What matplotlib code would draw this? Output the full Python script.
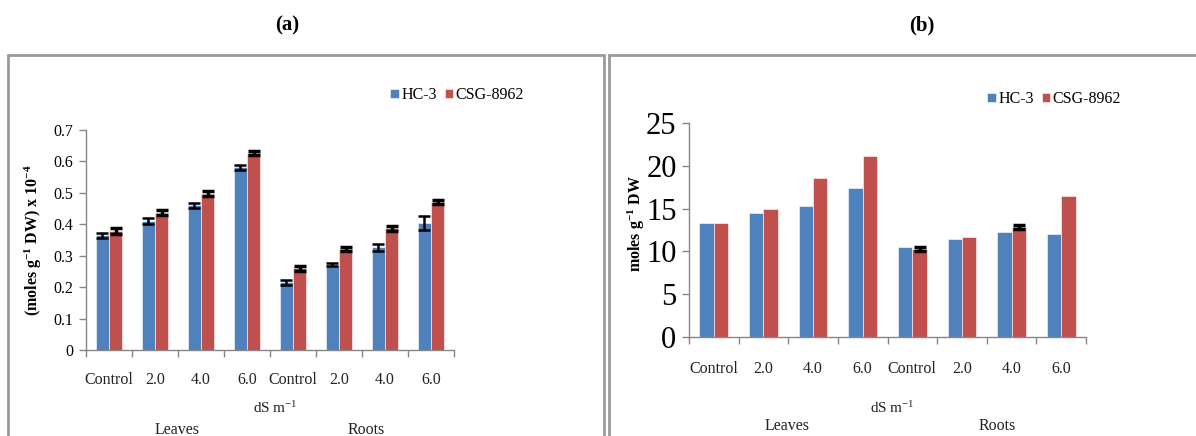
import matplotlib
matplotlib.use("Agg")
import matplotlib.pyplot as plt
from matplotlib.patches import Rectangle
import numpy as np

W, H = 1196, 436
DPI = 100

categories = ["Control", "2.0", "4.0", "6.0", "Control", "2.0", "4.0", "6.0"]
organs = ["Leaves", "Roots"]
series = ["HC-3", "CSG-8962"]

# panel (a): (moles g-1 DW) x 10-4
a_hc3 = [0.365, 0.41, 0.46, 0.581, 0.215, 0.272, 0.327, 0.405]
a_csg = [0.379, 0.436, 0.497, 0.627, 0.26, 0.321, 0.388, 0.47]
a_hc3_err = [0.008, 0.009, 0.007, 0.007, 0.008, 0.006, 0.011, 0.022]
a_csg_err = [0.009, 0.008, 0.008, 0.006, 0.008, 0.006, 0.008, 0.006]

# panel (b): moles g-1 DW
b_hc3 = [13.3, 14.5, 15.3, 17.4, 10.5, 11.5, 12.3, 12.0]
b_csg = [13.3, 15.0, 18.55, 21.2, 10.3, 11.65, 12.85, 16.45]
b_csg_err = [0, 0, 0, 0, 0.2, 0, 0.2, 0]

BLUE = "#4F81BD"
RED = "#C0504D"
AXIS = "#868686"
SERIF = ["Liberation Serif", "DejaVu Serif"]

plt.rcParams["mathtext.fontset"] = "custom"
plt.rcParams["mathtext.rm"] = "Liberation Serif"
plt.rcParams["mathtext.it"] = "Liberation Serif:italic"
plt.rcParams["mathtext.bf"] = "Liberation Serif:bold"
plt.rcParams["mathtext.default"] = "regular"

fig = plt.figure(figsize=(W / DPI, H / DPI), dpi=DPI)


def px_axes(x0, y0, x1, y1):
    # pixel box (top-left origin) -> figure axes
    return fig.add_axes([x0 / W, 1 - y1 / H, (x1 - x0) / W, (y1 - y0) / H])


def fx(x):
    return x / W


def fy(y):
    return 1 - y / H


def draw_panel(ax, hc, csg, hc_err, csg_err, ymax, ystep, bw, tick_fs, ylabel, ylab_fs):
    x = np.arange(len(categories))
    ax.bar(x - bw / 2, hc, bw, color=BLUE, edgecolor="white", linewidth=0.4, label=series[0], zorder=2)
    ax.bar(x + bw / 2, csg, bw, color=RED, edgecolor="white", linewidth=0.4, label=series[1], zorder=2)
    if hc_err is not None:
        ax.errorbar(x - bw / 2, hc, yerr=hc_err, fmt="none", ecolor="black",
                    elinewidth=1.8, capsize=4, capthick=1.8, zorder=3)
    if csg_err is not None:
        e = np.array(csg_err)
        m = e > 0
        ax.errorbar((x + bw / 2)[m], np.array(csg)[m], yerr=e[m], fmt="none", ecolor="black",
                    elinewidth=2.5, capsize=4, capthick=2.5, zorder=3)
    ax.set_xlim(-0.5, len(categories) - 0.5)
    ax.set_ylim(0, ymax)
    ax.set_yticks(np.arange(0, ymax + ystep / 2, ystep))
    ax.set_xticks(np.arange(-0.5, len(categories), 1.0))
    ax.set_xticklabels([])
    ax.tick_params(axis="x", direction="out", length=5, color=AXIS, width=1)
    ax.tick_params(axis="y", direction="out", length=5, color=AXIS, width=1,
                   labelsize=tick_fs, pad=4)
    for lab in ax.get_yticklabels():
        lab.set_family(SERIF)
    for s in ["top", "right"]:
        ax.spines[s].set_visible(False)
    for s in ["left", "bottom"]:
        ax.spines[s].set_color(AXIS)
        ax.spines[s].set_linewidth(1)
    ax.set_ylabel(ylabel, family=SERIF, fontweight="bold", fontsize=ylab_fs)


# panel borders
for (x0, x1) in [(8, 604), (609, 1210)]:
    fig.patches.append(Rectangle((fx(x0), fy(460)), fx(x1 - x0), (460 - 55) / H,
                                 transform=fig.transFigure, fill=False,
                                 edgecolor="#9A9A9A", linewidth=2))

fig.text(fx(287), fy(25), "(a)", ha="center", va="center", family=SERIF,
         fontweight="bold", fontsize=15)
fig.text(fx(922), fy(25), "(b)", ha="center", va="center", family=SERIF,
         fontweight="bold", fontsize=15)

# (a)
axa = px_axes(86, 130, 454, 350)
draw_panel(axa, a_hc3, a_csg, a_hc3_err, a_csg_err, 0.7, 0.1, 0.29, 11.5,
           r"(moles g$\mathbf{^{-1}}$ DW) x 10$\mathbf{^{-4}}$", 11.5)
axa.set_yticklabels(["0"] + [f"{v:.1f}" for v in np.arange(0.1, 0.75, 0.1)])
axa.yaxis.set_label_coords(-0.115, 0.5)

# (b)
axb = px_axes(689, 123, 1086, 337)
draw_panel(axb, b_hc3, b_csg, None, b_csg_err, 25, 5, 0.29, 22,
           r"moles g$\mathbf{^{-1}}$ DW", 11.5)
axb.yaxis.set_label_coords(-0.105, 0.53)

# category labels and group labels
for ax, y_cat, x0, x1, y_dsm, y_org, org_x in [
        (axa, 380, 86, 454, 408, 430, (177, 366)),
        (axb, 369, 689, 1086, 408, 426, (787, 997))]:
    step = (x1 - x0) / len(categories)
    for i, c in enumerate(categories):
        fig.text(fx(x0 + step * (i + 0.5)), fy(y_cat), c, ha="center", va="center",
                 family=SERIF, fontsize=11.5, color="#222222")
    fig.text(fx((x0 + x1) / 2 + 5), fy(y_dsm), r"dS m$^{-1}$", ha="center",
             va="center", family=SERIF, fontsize=11, color="#222222")
    for o, ox in zip(organs, org_x):
        fig.text(fx(ox), fy(y_org), o, ha="center", va="center", family=SERIF,
                 fontsize=11.5, color="#222222")

# legends
for ax, lx, ly in [(axa, 390, 95), (axb, 987, 99)]:
    fig.legend(*ax.get_legend_handles_labels(), loc="center left",
               bbox_to_anchor=(fx(lx), fy(ly)), ncol=2, frameon=False,
               prop={"family": SERIF, "size": 11.5}, handlelength=0.55,
               handleheight=0.55, handletextpad=0.15, columnspacing=0.5,
               borderaxespad=0, borderpad=0)

fig.savefig("out.png", dpi=DPI)
